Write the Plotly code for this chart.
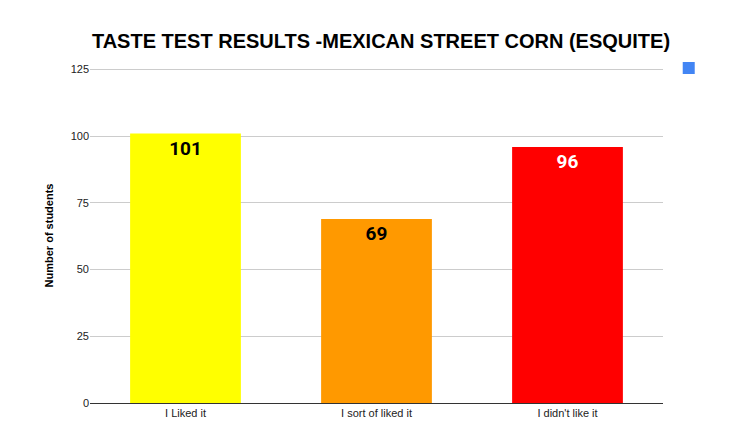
import plotly.graph_objects as go

categories = ["I Liked it", "I sort of liked it", "I didn't like it"]
students = [101, 69, 96]
bar_colors = ["#ffff00", "#ff9900", "#ff0000"]
label_colors = ["black", "black", "white"]
y_ticks = [0, 25, 50, 75, 100, 125]

fig = go.Figure()
fig.add_trace(go.Bar(
    x=categories, y=students,
    marker=dict(color=bar_colors, line=dict(width=0)),
    text=students, textposition="inside", insidetextanchor="end",
    textfont=dict(family="Roboto", size=19, color=label_colors),
    texttemplate="<b>%{text}</b>",
    showlegend=False,
))
# legend marker shows the default blue swatch with no label
fig.add_trace(go.Scatter(x=[None], y=[None], mode="markers", name="",
                         marker=dict(symbol="square", size=12, color="#4285f4"),
                         showlegend=True))

fig.update_layout(
    width=746, height=446,
    margin=dict(l=82, r=91, t=60, b=51),
    paper_bgcolor="white", plot_bgcolor="white",
    title=dict(text="<b>TASTE TEST RESULTS -MEXICAN STREET CORN (ESQUITE)</b>",
               x=0.5, xanchor="center", y=0.925, yanchor="middle",
               font=dict(family="Liberation Sans", size=20, color="black")),
    font=dict(family="Liberation Sans", size=11, color="#222222"),
    bargap=0.42,
    legend=dict(x=1.01, y=1.0, xanchor="left", yanchor="middle",
                font=dict(size=11), bgcolor="rgba(0,0,0,0)"),
)
fig.update_yaxes(range=[0, 125.6], tickvals=y_ticks, gridcolor="#cccccc",
                 zeroline=False, showline=False, ticks="", automargin=False,
                 title=dict(text="<b>Number of students</b>", standoff=14,
                            font=dict(size=11, color="black")))
fig.update_xaxes(showline=True, linecolor="#333333", ticks="", automargin=False,
                 tickfont=dict(size=11))

fig.write_html("out.html")
